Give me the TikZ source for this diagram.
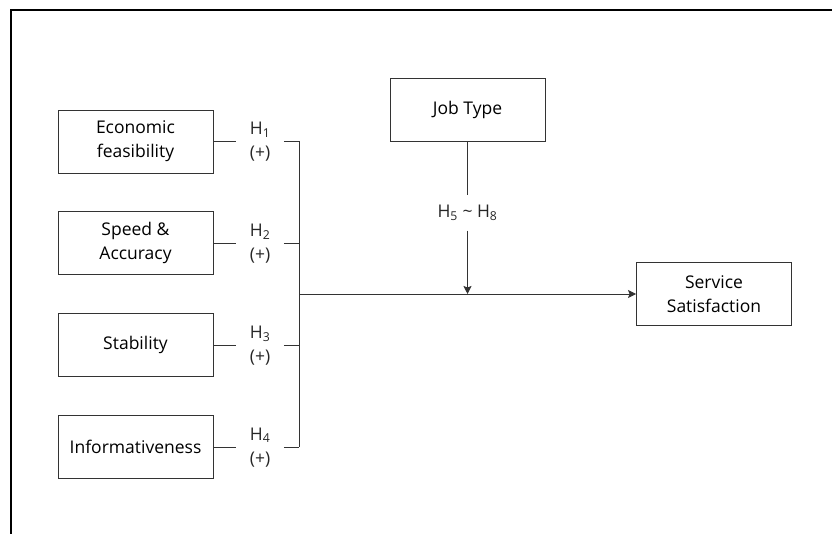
\documentclass[tikz,border=0pt]{standalone}
\usepackage{fontspec}
\setmainfont{Open Sans}
\usepackage{tikz}
\usetikzlibrary{arrows.meta,positioning}

\begin{document}
\begin{tikzpicture}[
		x=1pt, y=-1pt,
		node distance=38pt,
		block/.style={rectangle, draw=black!80, line width=0.9pt, minimum width=155pt, minimum height=63pt, text centered, align=center, font=\fontsize{17.5}{24}\selectfont},
		hyp/.style={inner sep=0pt, minimum width=47pt, align=center, font=\fontsize{17.5}{24}\selectfont, text=black!85},
		line/.style={draw=black!80, line width=0.9pt},
		arrow/.style={line, -{Stealth[length=8pt,width=8pt,inset=1.5pt]}}
		]
		\useasboundingbox (0,0) rectangle (832,534);
		% frame
		\draw[line width=1.1pt] (11,534) -- (11,10) -- (832,10);
		
		% factors
		\node[block] (econ) at (135.5,141.5) {Economic\\feasibility};
		\node[block, below=of econ] (speed) {Speed \&\\Accuracy};
		\node[block, below=of speed] (stab) {Stability};
		\node[block, below=of stab] (info) {Informativeness};
		\node[block] (job) at (467.5,109.5) {Job Type};
		\node[block] (sat) at (714,294) {Service\\Satisfaction};
		
		% hypotheses
		\node[hyp, right=23pt of econ] (h1) {H\textsubscript{1}\\(+)};
		\node[hyp, right=23pt of speed] (h2) {H\textsubscript{2}\\(+)};
		\node[hyp, right=23pt of stab] (h3) {H\textsubscript{3}\\(+)};
		\node[hyp, right=23pt of info] (h4) {H\textsubscript{4}\\(+)};
		\node[hyp, minimum height=35pt] (h58) at (467.5,213) {H\textsubscript{5} \textasciitilde{} H\textsubscript{8}};
		
		\coordinate (bus) at (299,294);
		\coordinate (meet) at (467.5,294);
		
		% Arrows
		\draw[line] (econ) -- (h1) (h1) -- (h1 -| bus);
		\draw[line] (speed) -- (h2) (h2) -- (h2 -| bus);
		\draw[line] (stab) -- (h3) (h3) -- (h3 -| bus);
		\draw[line] (info) -- (h4) (h4) -- (h4 -| bus);
		\draw[line] (h1 -| bus) -- (h4 -| bus);
		\draw[arrow] (bus) -- (sat);
		\draw[line] (job) -- (h58);
		\draw[arrow] (h58) -- (meet);
		
	\end{tikzpicture}
\end{document}
